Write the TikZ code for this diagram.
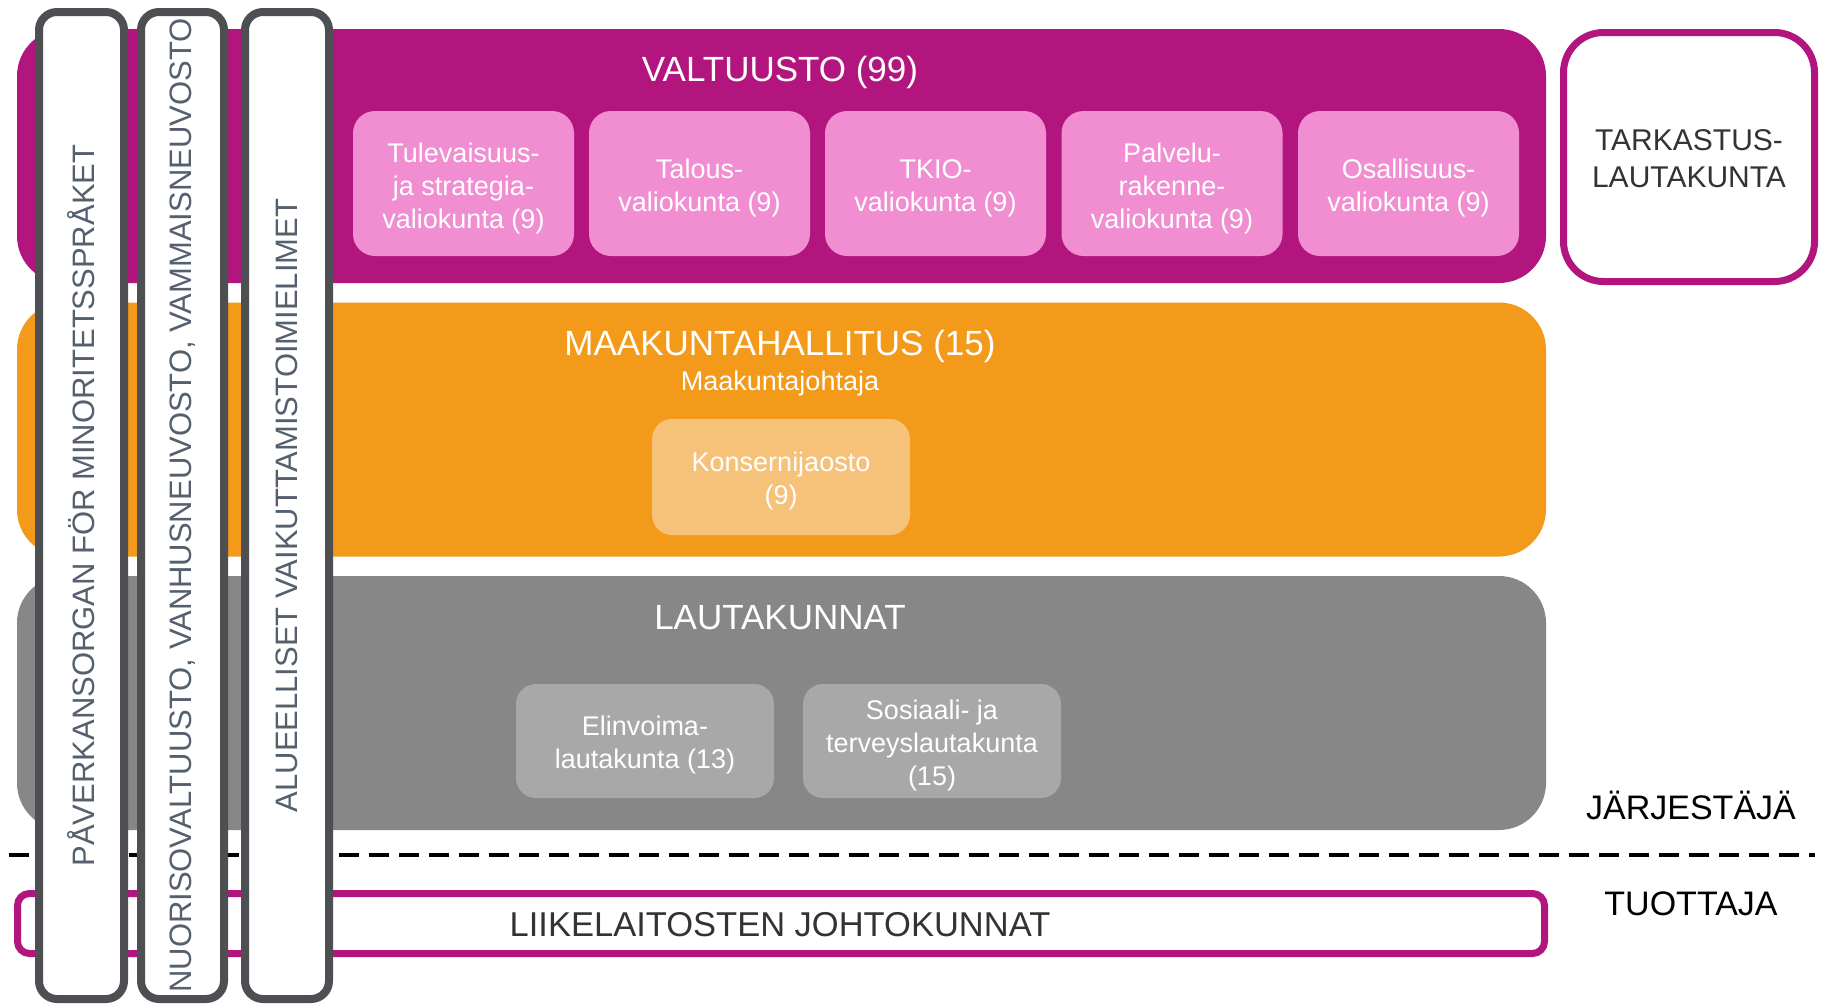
\documentclass[tikz,border=0pt]{standalone}
\usepackage{fontspec}
\setmainfont{Liberation Sans}
\definecolor{mag}{HTML}{B2157E}
\definecolor{pinkbox}{HTML}{F08ED1}
\definecolor{orng}{HTML}{F39A1B}
\definecolor{lorng}{HTML}{F6C179}
\definecolor{gryband}{HTML}{878787}
\definecolor{lgry}{HTML}{A8A8A8}
\definecolor{colborder}{HTML}{4D4F53}
\definecolor{coltext}{HTML}{55606F}
\definecolor{darktext}{HTML}{333333}
\begin{document}
\begin{tikzpicture}[x=1pt,y=-1pt,
  band/.style={rounded corners=47pt, inner sep=0pt, minimum width=1529pt, minimum height=254pt},
  subbox/.style={rounded corners=22pt, inner sep=0pt},
  subtext/.style={text=white, align=center, inner sep=0pt, font=\fontsize{27}{33}\selectfont},
  title/.style={text=white, font=\fontsize{35}{41}\selectfont, inner sep=0pt},
  colbox/.style={draw=colborder, line width=8pt, fill=white, rounded corners=18pt,
     rotate=90, minimum width=987pt, text=coltext, inner sep=0pt,
     font=\fontsize{31}{37}\selectfont},
  magbox/.style={draw=mag, line width=7pt, fill=white, inner sep=0pt},
  side/.style={text=black, font=\fontsize{34}{40}\selectfont, inner sep=0pt}
]
\useasboundingbox (0,0) rectangle (1825,1007);
\fill[white] (0,0) rectangle (1825,1007);

% bands
\node[band, fill=mag] (valtuusto) at (781.5,156) {};
\node[band, fill=orng] (hallitus) at (781.5,429.5) {};
\node[band, fill=gryband] (lautakunnat) at (781.5,703) {};

\node[title] (valtT) at (780,72.5) {VALTUUSTO (99)};
\node[title] (hallT) at (780,346.5) {MAAKUNTAHALLITUS (15)};
\node[text=white, inner sep=0pt, font=\fontsize{27}{33}\selectfont] (johtaja) at (780,383.5) {Maakuntajohtaja};
\node[title] (lautT) at (780,618) {LAUTAKUNNAT};

% valiokunnat
\foreach \n/\x/\t in {v1/463.5/{Tulevaisuus-\\ja strategia-\\valiokunta (9)},
                      v2/699.5/{Talous-\\valiokunta (9)},
                      v3/935.5/{TKIO-\\valiokunta (9)},
                      v4/1172/{Palvelu-\\rakenne-\\valiokunta (9)},
                      v5/1408.5/{Osallisuus-\\valiokunta (9)}}
{
  \node[subbox, fill=pinkbox, minimum width=221pt, minimum height=145pt] (\n) at (\x,183.5) {};
  \node[subtext] (\n t) at ([yshift=-5pt]\n.center) {\t};
}

\node[subbox, fill=lorng, rounded corners=20pt, minimum width=258pt, minimum height=116pt] (konserni) at (781,477) {};
\node[subtext] (konsernit) at ([yshift=-4.5pt]konserni.center) {Konsernijaosto\\(9)};
\node[subbox, fill=lgry, rounded corners=20pt, minimum width=258pt, minimum height=114pt] (elinvoima) at (645,741) {};
\node[subtext] (elinvoimat) at ([yshift=-4.5pt]elinvoima.center) {Elinvoima-\\lautakunta (13)};
\node[subbox, fill=lgry, rounded corners=20pt, minimum width=258pt, minimum height=114pt] (sote) at (932,741) {};
\node[subtext] (sotet) at ([yshift=-4.5pt]sote.center) {Sosiaali- ja\\terveyslautakunta\\(15)};

% tarkastus
\node[magbox, rounded corners=40pt, minimum width=251pt, minimum height=249pt] (tarkastus) at (1689,157) {};
\node[align=center, inner sep=0pt, text=darktext, font=\fontsize{30}{37}\selectfont] (tarkastust) at ([yshift=-2pt]tarkastus.center) {TARKASTUS-\\LAUTAKUNTA};

% liikelaitokset
\node[magbox, rounded corners=12pt, minimum width=1527pt, minimum height=60pt] (liike) at (781,923.5) {};
\node[text=darktext, inner sep=0pt, font=\fontsize{34.5}{40}\selectfont] (liikeT) at (780,925) {LIIKELAITOSTEN JOHTOKUNNAT};

% side labels
\node[side] (jarj) at (1691,805) {JÄRJESTÄJÄ};
\node[side] (tuot) at (1691,904) {TUOTTAJA};

% dashed divider
\coordinate (dl) at (9,855);
\coordinate (dr) at (1815,855);
\draw[black, line width=4pt, dash pattern=on 20pt off 10pt] (dl) -- (dr);

% vertical columns
\node[colbox, minimum height=85pt] (c1) at (81.5,505.5) {PÅVERKANSORGAN FÖR MINORITETSSPRÅKET};
\node[colbox, minimum height=83pt] (c2) at (182.5,505.5) {NUORISOVALTUUSTO, VANHUSNEUVOSTO, VAMMAISNEUVOSTO};
\node[colbox, minimum height=84pt] (c3) at (287,505.5) {ALUEELLISET VAIKUTTAMISTOIMIELIMET};
\end{tikzpicture}
\end{document}
